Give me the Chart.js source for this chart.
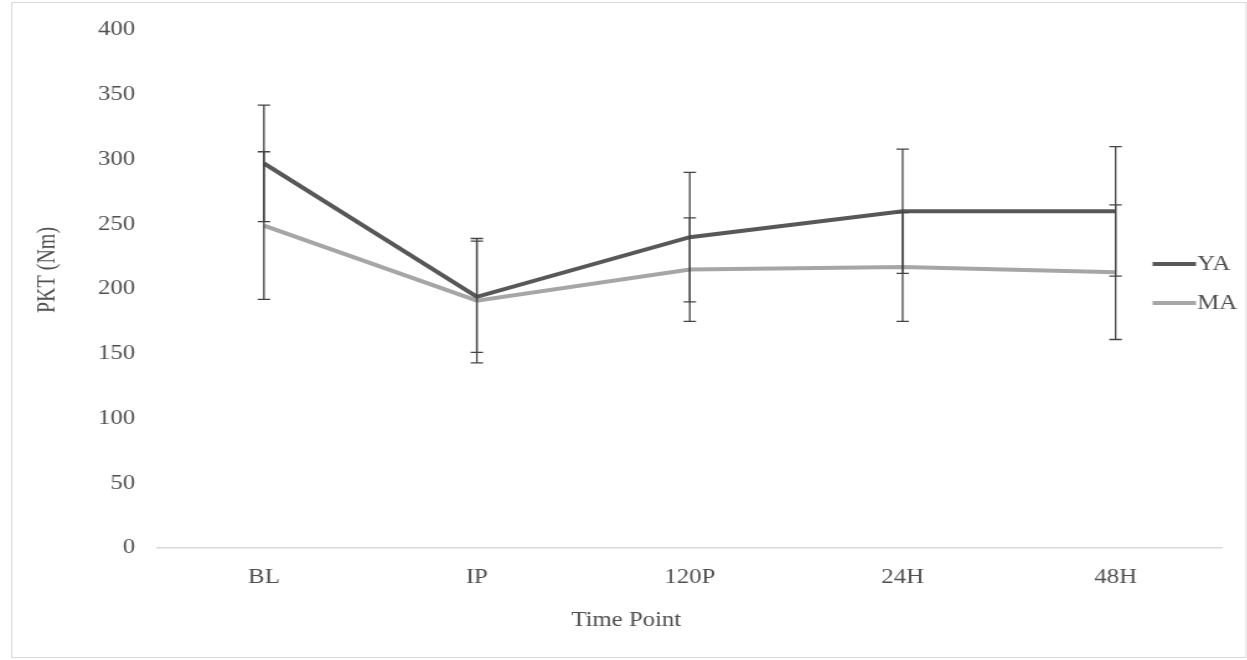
<!DOCTYPE html>
<html lang="en">
<head>
<meta charset="UTF-8">
<title>PKT by Time Point</title>
<script src="https://cdn.jsdelivr.net/npm/chart.js"></script>
<style>
  html, body { margin: 0; padding: 0; background: #fff; overflow: hidden; }
  /* the original picture is stretched sideways, so the chart is too */
  .wrap { width: 1006px; height: 660px; transform: scaleX(1.24); transform-origin: 0 0; }
</style>
</head>
<body>
<div class="wrap">
  <canvas id="pktChart" width="1006" height="660"></canvas>
</div>
<script>
// data
const timePoints = ['BL', 'IP', '120P', '24H', '48H'];
const yaMeans = [297, 194, 240, 260, 260];
const yaSD = [45, 43, 50, 48, 50];
const maMeans = [249, 191, 215, 217, 213];
const maSD = [57, 48, 40, 42, 52];
const yMin = 0, yMax = 400, yStep = 50;
const xTitle = 'Time Point';
const yTitle = 'PKT (Nm)';

const serif = "'Liberation Serif', 'Times New Roman', serif";
const textGrey = '#505050';

// frame round the whole picture
const framePlugin = {
    id: 'frame',
    beforeDraw(chart) {
        const ctx = chart.ctx;
        ctx.save();
        ctx.strokeStyle = '#d9d9d9';
        ctx.lineWidth = 1;
        ctx.strokeRect(9.5, 2.5, chart.width - 10.5, chart.height - 5);
        ctx.restore();
    }
};

// +/- SD bars
const errorBars = {
    id: 'errorBars',
    afterDatasetsDraw(chart) {
        const ctx = chart.ctx;
        const x = chart.scales.x, y = chart.scales.y;
        ctx.save();
        ctx.strokeStyle = '#444444';
        ctx.lineWidth = 1.3;
        chart.data.datasets.forEach(ds => {
            ds.data.forEach((v, i) => {
                const px = x.getPixelForValue(i);
                const top = y.getPixelForValue(v + ds.sd[i]);
                const bot = y.getPixelForValue(v - ds.sd[i]);
                ctx.beginPath();
                ctx.moveTo(px, top); ctx.lineTo(px, bot);
                ctx.moveTo(px - 5, top); ctx.lineTo(px + 5, top);
                ctx.moveTo(px - 5, bot); ctx.lineTo(px + 5, bot);
                ctx.stroke();
            });
        });
        ctx.restore();
    }
};

// axis titles and legend, placed like in the original (not centred on the plot)
const extras = {
    id: 'extras',
    afterDraw(chart) {
        const ctx = chart.ctx;
        ctx.save();
        ctx.font = '20px ' + serif;
        ctx.fillStyle = textGrey;
        ctx.textBaseline = 'middle';

        ctx.textAlign = 'center';
        ctx.fillText(xTitle, 505, 621);
        ctx.save();
        ctx.translate(39, 270);
        ctx.rotate(-Math.PI / 2);
        ctx.fillText(yTitle, 0, 0);
        ctx.restore();

        ctx.textAlign = 'left';
        const x0 = chart.chartArea.right - 56;
        const rows = [264, 303];
        chart.data.datasets.forEach((ds, i) => {
            ctx.strokeStyle = ds.borderColor;
            ctx.lineWidth = 4;
            ctx.beginPath();
            ctx.moveTo(x0, rows[i]);
            ctx.lineTo(x0 + 35, rows[i]);
            ctx.stroke();
            ctx.fillText(ds.label, x0 + 36, rows[i] + 1);
        });
        ctx.restore();
    }
};

const ctx = document.getElementById('pktChart').getContext('2d');
new Chart(ctx, {
    type: 'line',
    data: {
        labels: timePoints,
        datasets: [
            {
                label: 'YA',
                data: yaMeans,
                sd: yaSD,
                borderColor: '#585858',
                borderWidth: 4,
                pointRadius: 0,
                tension: 0,
                fill: false
            },
            {
                label: 'MA',
                data: maMeans,
                sd: maSD,
                borderColor: '#a6a6a6',
                borderWidth: 4,
                pointRadius: 0,
                tension: 0,
                fill: false
            }
        ]
    },
    options: {
        responsive: false,
        animation: false,
        devicePixelRatio: 1,
        layout: { padding: { top: 30, right: 20.5, bottom: 0, left: 0 } },
        plugins: {
            legend: { display: false },
            tooltip: { enabled: false }
        },
        scales: {
            x: {
                offset: true,
                grid: { display: false, drawTicks: false },
                border: { display: true, color: '#d9d9d9', width: 1.5 },
                ticks: { color: textGrey, font: { family: serif, size: 20 }, padding: 18, maxRotation: 0 },
                afterFit(scale) { scale.height = 112; }
            },
            y: {
                min: yMin,
                max: yMax,
                grid: { display: false, drawTicks: false },
                border: { display: false },
                ticks: { stepSize: yStep, color: textGrey, font: { family: serif, size: 20 }, padding: 18 },
                afterFit(scale) { scale.width = 127; }
            }
        }
    },
    plugins: [framePlugin, errorBars, extras]
});
</script>
</body>
</html>
